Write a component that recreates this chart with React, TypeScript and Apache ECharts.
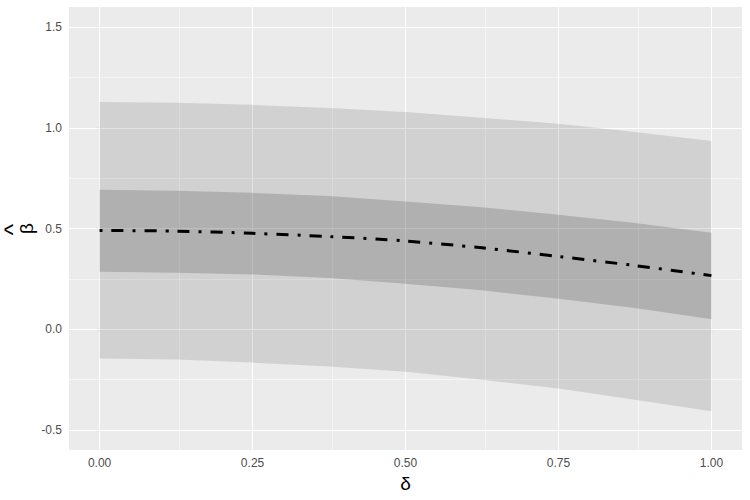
import React, { useEffect, useRef } from "react";
import * as echarts from "echarts";

const deltaValues = [0, 0.125, 0.25, 0.375, 0.5, 0.625, 0.75, 0.875, 1.0];
const outerUpper = [1.128, 1.124, 1.114, 1.099, 1.078, 1.05, 1.02, 0.979, 0.935];
const innerUpper = [0.693, 0.687, 0.677, 0.661, 0.634, 0.606, 0.568, 0.527, 0.479];
const betaHat = [0.49, 0.487, 0.476, 0.46, 0.438, 0.404, 0.361, 0.316, 0.266];
const innerLower = [0.285, 0.28, 0.272, 0.254, 0.226, 0.193, 0.151, 0.105, 0.049];
const outerLower = [-0.145, -0.151, -0.166, -0.185, -0.212, -0.251, -0.295, -0.35, -0.408];

const xBreaks = [0, 0.25, 0.5, 0.75, 1.0];
const xMinorBreaks = [0.125, 0.375, 0.625, 0.875];
const yBreaks = [-0.5, 0, 0.5, 1.0, 1.5];
const yMinorBreaks = [-0.25, 0.25, 0.75, 1.25];

const xTitle = "δ";
const yTitle = "β";
const yTitleHat = "^";

const bandSeries = (upper: number[], lower: number[], fill: string, z: number) => ({
  type: "custom",
  z,
  silent: true,
  data: [[0, 0]],
  renderItem: (_params: any, api: any) => {
    const top = deltaValues.map((x, i) => api.coord([x, upper[i]]));
    const bottom = deltaValues.map((x, i) => api.coord([x, lower[i]])).reverse();
    return {
      type: "polygon",
      shape: { points: top.concat(bottom) },
      style: { fill },
    };
  },
});

export default function App() {
  const ref = useRef<HTMLDivElement>(null);
  useEffect(() => {
    if (!ref.current) return;
    const chart = echarts.init(ref.current, null, { renderer: "svg" });
    const gridLines = [
      ...xBreaks.map((v) => ({ xAxis: v, lineStyle: { width: 1.07 } })),
      ...xMinorBreaks.map((v) => ({ xAxis: v, lineStyle: { width: 0.53 } })),
      ...yBreaks.map((v) => ({ yAxis: v, lineStyle: { width: 1.07 } })),
      ...yMinorBreaks.map((v) => ({ yAxis: v, lineStyle: { width: 0.53 } })),
    ];
    chart.setOption({
      animation: false,
      grid: {
        left: 69,
        right: 8,
        top: 7,
        bottom: 50,
        show: true,
        backgroundColor: "#EBEBEB",
        borderWidth: 0,
      },
      graphic: [
        {
          type: "text",
          x: 26,
          y: 228.5,
          rotation: Math.PI / 2,
          silent: true,
          style: {
            text: yTitle,
            fontSize: 19,
            fontFamily: "Liberation Sans",
            fill: "#000000",
            textAlign: "center",
            textVerticalAlign: "middle",
          },
        },
        {
          type: "text",
          x: 12,
          y: 229.5,
          rotation: Math.PI / 2,
          silent: true,
          style: {
            text: yTitleHat,
            fontSize: 24,
            fontFamily: "Liberation Sans",
            fill: "#000000",
            textAlign: "center",
            textVerticalAlign: "middle",
          },
        },
      ],
      xAxis: {
        type: "value",
        min: -0.05,
        max: 1.05,
        name: xTitle,
        nameLocation: "middle",
        nameGap: 23,
        nameTextStyle: { fontSize: 19, color: "#000", fontFamily: "Liberation Sans" },
        axisLine: { show: false },
        splitLine: { show: false },
        axisTick: {
          show: true,
          customValues: xBreaks,
          length: 3.7,
          lineStyle: { color: "#333333", width: 1.07 },
        },
        axisLabel: {
          customValues: xBreaks,
          formatter: (v: number) => v.toFixed(2),
          color: "#4D4D4D",
          fontSize: 12,
          fontFamily: "Liberation Sans",
          margin: 7,
        },
      },
      yAxis: {
        type: "value",
        min: -0.6,
        max: 1.6,
        axisLine: { show: false },
        splitLine: { show: false },
        axisTick: {
          show: true,
          customValues: yBreaks,
          length: 3.7,
          lineStyle: { color: "#333333", width: 1.07 },
        },
        axisLabel: {
          customValues: yBreaks,
          formatter: (v: number) => v.toFixed(1),
          color: "#4D4D4D",
          fontSize: 12,
          fontFamily: "Liberation Sans",
          margin: 7,
        },
      },
      series: [
        {
          type: "line",
          data: [],
          z: 1,
          silent: true,
          markLine: {
            z: 1,
            silent: true,
            symbol: ["none", "none"],
            label: { show: false },
            emphasis: { disabled: true },
            lineStyle: { color: "#FFFFFF", type: "solid" },
            data: gridLines,
          },
        },
        bandSeries(outerUpper, outerLower, "rgba(0,0,0,0.11)", 2),
        bandSeries(innerUpper, innerLower, "rgba(0,0,0,0.155)", 3),
        {
          type: "line",
          z: 4,
          silent: true,
          symbol: "none",
          smooth: 0.3,
          data: deltaValues.map((x, i) => [x, betaHat[i]]),
          lineStyle: { color: "#000000", width: 3, type: [3, 9, 12, 9], cap: "butt" },
        },
      ],
    });
    return () => chart.dispose();
  }, []);
  return (
    <div
      ref={ref}
      style={{ position: "fixed", left: 0, top: 0, width: 750, height: 500, background: "#FFFFFF" }}
    />
  );
}
